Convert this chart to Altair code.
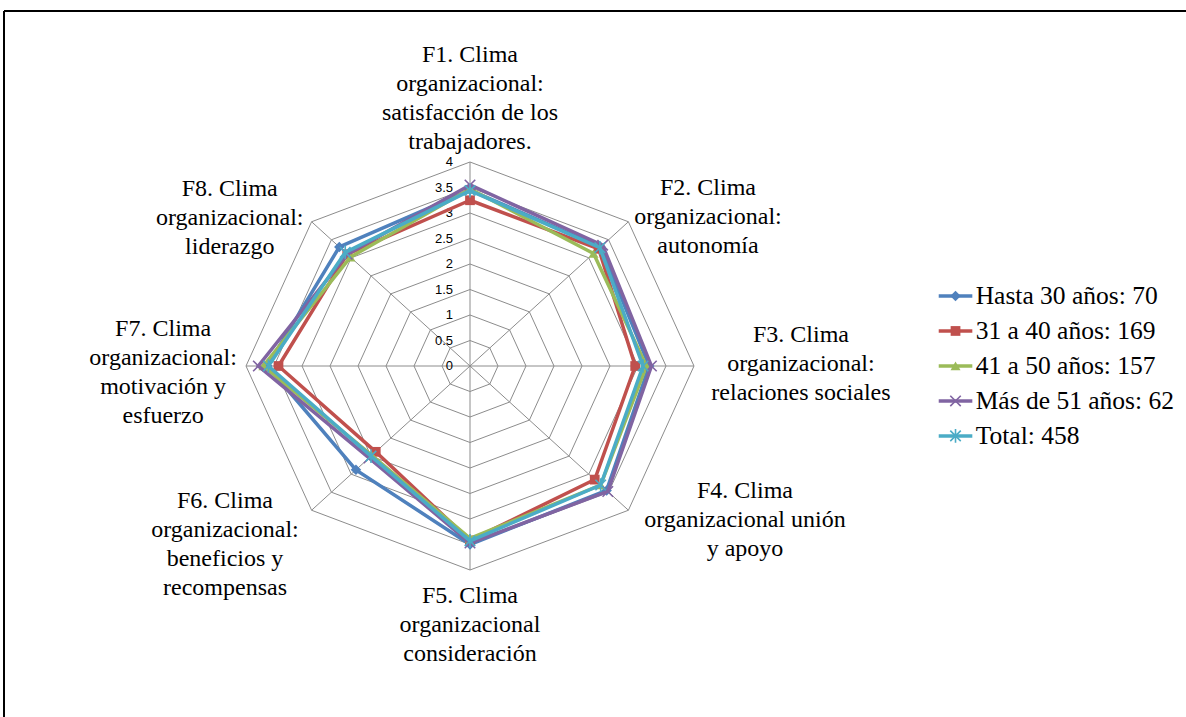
import altair as alt
import pandas as pd

# ---- chart values -------------------------------------------------------
factor_labels = [
    "F1. Clima\norganizacional:\nsatisfacción de los\ntrabajadores.",
    "F2. Clima\norganizacional:\nautonomía",
    "F3. Clima\norganizacional:\nrelaciones sociales",
    "F4. Clima\norganizacional unión\ny apoyo",
    "F5. Clima\norganizacional\nconsideración",
    "F6. Clima\norganizacional:\nbeneficios y\nrecompensas",
    "F7. Clima\norganizacional:\nmotivación y\nesfuerzo",
    "F8. Clima\norganizacional:\nliderazgo",
]

series_names = [
    "Hasta 30 años: 70",
    "31 a 40 años: 169",
    "41 a 50 años: 157",
    "Más de 51 años: 62",
    "Total: 458",
]

hasta_30 = [3.45, 3.30, 3.20, 3.45, 3.50, 2.88, 3.62, 3.30]
de_31_a_40 = [3.25, 3.25, 2.95, 3.15, 3.42, 2.38, 3.42, 3.10]
de_41_a_50 = [3.47, 3.12, 3.15, 3.30, 3.38, 2.48, 3.69, 3.02]
mas_de_51 = [3.55, 3.35, 3.24, 3.48, 3.47, 2.55, 3.78, 3.10]
total = [3.44, 3.28, 3.09, 3.30, 3.43, 2.50, 3.60, 3.15]
series_values = [hasta_30, de_31_a_40, de_41_a_50, mas_de_51, total]

ring_levels = [0.5, 1.0, 1.5, 2.0, 2.5, 3.0, 3.5, 4.0]
tick_values = [0, 0.5, 1, 1.5, 2, 2.5, 3, 3.5, 4]
tick_labels = ["0", "0.5", "1", "1.5", "2", "2.5", "3", "3.5", "4"]

# ---- styling / layout ---------------------------------------------------
series_colors = ["#4F81BD", "#C0504D", "#9BBB59", "#8064A2", "#4BACC6"]
series_shapes = [
    "diamond",
    "square",
    "triangle-up",
    "M-1,-1L1,1M-1,1L1,-1",
    "M-1,-1L1,1M-1,1L1,-1M0,-1.3L0,1.3",
]
series_filled = [True, True, True, False, False]
series_sizes = [110, 95, 100, 110, 110]

# label anchors (axis units): centre of the first text line of each factor
label_x = [0.0, 4.25, 5.91, 4.91, 0.0, -4.375, -5.48, -4.29]
label_y = [6.10, 3.49, 0.61, -2.45, -4.51, -2.65, 0.725, 3.47]

# legend block (axis units)
legend_line_x0, legend_line_x1, legend_mark_x, legend_text_x = 8.37, 8.97, 8.67, 9.03
legend_top_y, legend_step_y = 1.373, 0.686

PAD_LEFT, PAD_TOP = 4, 11
W, H = 1182, 706
CX, CY = 470, 366          # web centre in page pixels
SX, SY = 56.0, 51.0        # pixels per unit, horizontal / vertical

XMIN = -(CX - PAD_LEFT) / SX
XMAX = XMIN + W / SX
YMAX = (CY - PAD_TOP) / SY
YMIN = YMAX - H / SY

FONT_SERIF = "Liberation Serif"
GRID = "#8C8C8C"

xs = alt.Scale(domain=[XMIN, XMAX], nice=False, zero=False)
ys = alt.Scale(domain=[YMIN, YMAX], nice=False, zero=False)


def X(field):
    return alt.X(f"{field}:Q", scale=xs, axis=None)


def Y(field):
    return alt.Y(f"{field}:Q", scale=ys, axis=None)


polar_x = "datum.r * sin(datum.k * PI / 4)"
polar_y = "datum.r * cos(datum.k * PI / 4)"

# ---- grid: octagon rings and spokes ------------------------------------
rings_df = pd.DataFrame(
    [{"level": lv, "k": k, "r": lv} for lv in ring_levels for k in range(9)]
)
rings = (
    alt.Chart(rings_df)
    .transform_calculate(x=polar_x, y=polar_y)
    .mark_line(color=GRID, strokeWidth=1)
    .encode(x=X("x"), y=Y("y"), detail="level:N", order="k:Q")
)

spokes_df = pd.DataFrame({"k": list(range(8)), "r": [ring_levels[-1]] * 8})
spokes = (
    alt.Chart(spokes_df)
    .transform_calculate(x=polar_x, y=polar_y, x0="0", y0="0")
    .mark_rule(color=GRID, strokeWidth=1)
    .encode(x=X("x0"), y=Y("y0"), x2="x:Q", y2="y:Q")
)

ticks_df = pd.DataFrame({"v": tick_values, "label": tick_labels})
ticks = (
    alt.Chart(ticks_df)
    .transform_calculate(x0="0")
    .mark_text(align="right", baseline="middle", dx=-17, font="Liberation Sans",
               fontSize=13, color="#000000")
    .encode(x=X("x0"), y=Y("v"), text="label:N")
)

labels_df = pd.DataFrame({"label": factor_labels, "lx": label_x, "ly": label_y})
labels = (
    alt.Chart(labels_df)
    .mark_text(align="center", baseline="middle", lineBreak="\n", lineHeight=29,
               font=FONT_SERIF, fontSize=24, color="#000000")
    .encode(x=X("lx"), y=Y("ly"), text="label:N")
)

# ---- series: closed polygons with markers --------------------------------
series_layers = []
for j, (name, vals) in enumerate(zip(series_names, series_values)):
    df = pd.DataFrame({"k": list(range(9)), "r": vals + vals[:1], "serie": name})
    base = alt.Chart(df).transform_calculate(x=polar_x, y=polar_y)
    line = base.mark_line(color=series_colors[j], strokeWidth=3.5,
                          strokeJoin="miter").encode(x=X("x"), y=Y("y"), order="k:Q")
    pts = base.transform_filter("datum.k < 8").mark_point(
        shape=series_shapes[j], size=series_sizes[j], filled=series_filled[j],
        color=series_colors[j], strokeWidth=1.6, opacity=1,
    ).encode(x=X("x"), y=Y("y"))
    series_layers += [line, pts]

# ---- legend ---------------------------------------------------------------
legend_layers = []
for j, name in enumerate(series_names):
    ly = legend_top_y - legend_step_y * j
    ldf = pd.DataFrame({"x0": [legend_line_x0], "x1": [legend_line_x1],
                        "xm": [legend_mark_x], "xt": [legend_text_x],
                        "y": [ly], "name": [name]})
    lb = alt.Chart(ldf)
    legend_layers.append(
        lb.mark_rule(color=series_colors[j], strokeWidth=3.5)
        .encode(x=X("x0"), x2="x1:Q", y=Y("y"))
    )
    legend_layers.append(
        lb.mark_point(shape=series_shapes[j], size=series_sizes[j],
                      filled=series_filled[j], color=series_colors[j],
                      strokeWidth=1.6, opacity=1)
        .encode(x=X("xm"), y=Y("y"))
    )
    legend_layers.append(
        lb.mark_text(align="left", baseline="middle", font=FONT_SERIF,
                     fontSize=25.5, color="#000000")
        .encode(x=X("xt"), y=Y("y"), text="name:N")
    )

# ---- outer frame (left and top edges) --------------------------------------
frame_df = pd.DataFrame({"a": [0]})
frame_left = alt.Chart(frame_df).mark_rule(color="#000000", strokeWidth=2).encode(
    x=alt.value(0), y=alt.value(0), y2=alt.value(H + 5)
)
frame_top = alt.Chart(frame_df).mark_rule(color="#000000", strokeWidth=2).encode(
    x=alt.value(0), x2=alt.value(W + 5), y=alt.value(0)
)

chart = (
    alt.layer(rings, spokes, ticks, labels, *series_layers, *legend_layers,
              frame_left, frame_top)
    .properties(
        width=W, height=H,
        padding={"left": PAD_LEFT, "top": PAD_TOP, "right": 0, "bottom": 0},
        autosize=alt.AutoSizeParams(type="none"),
        background="#FFFFFF",
    )
    .configure_view(stroke=None)
)

chart.save("out.html", embed_options={"renderer": "svg", "actions": False})
